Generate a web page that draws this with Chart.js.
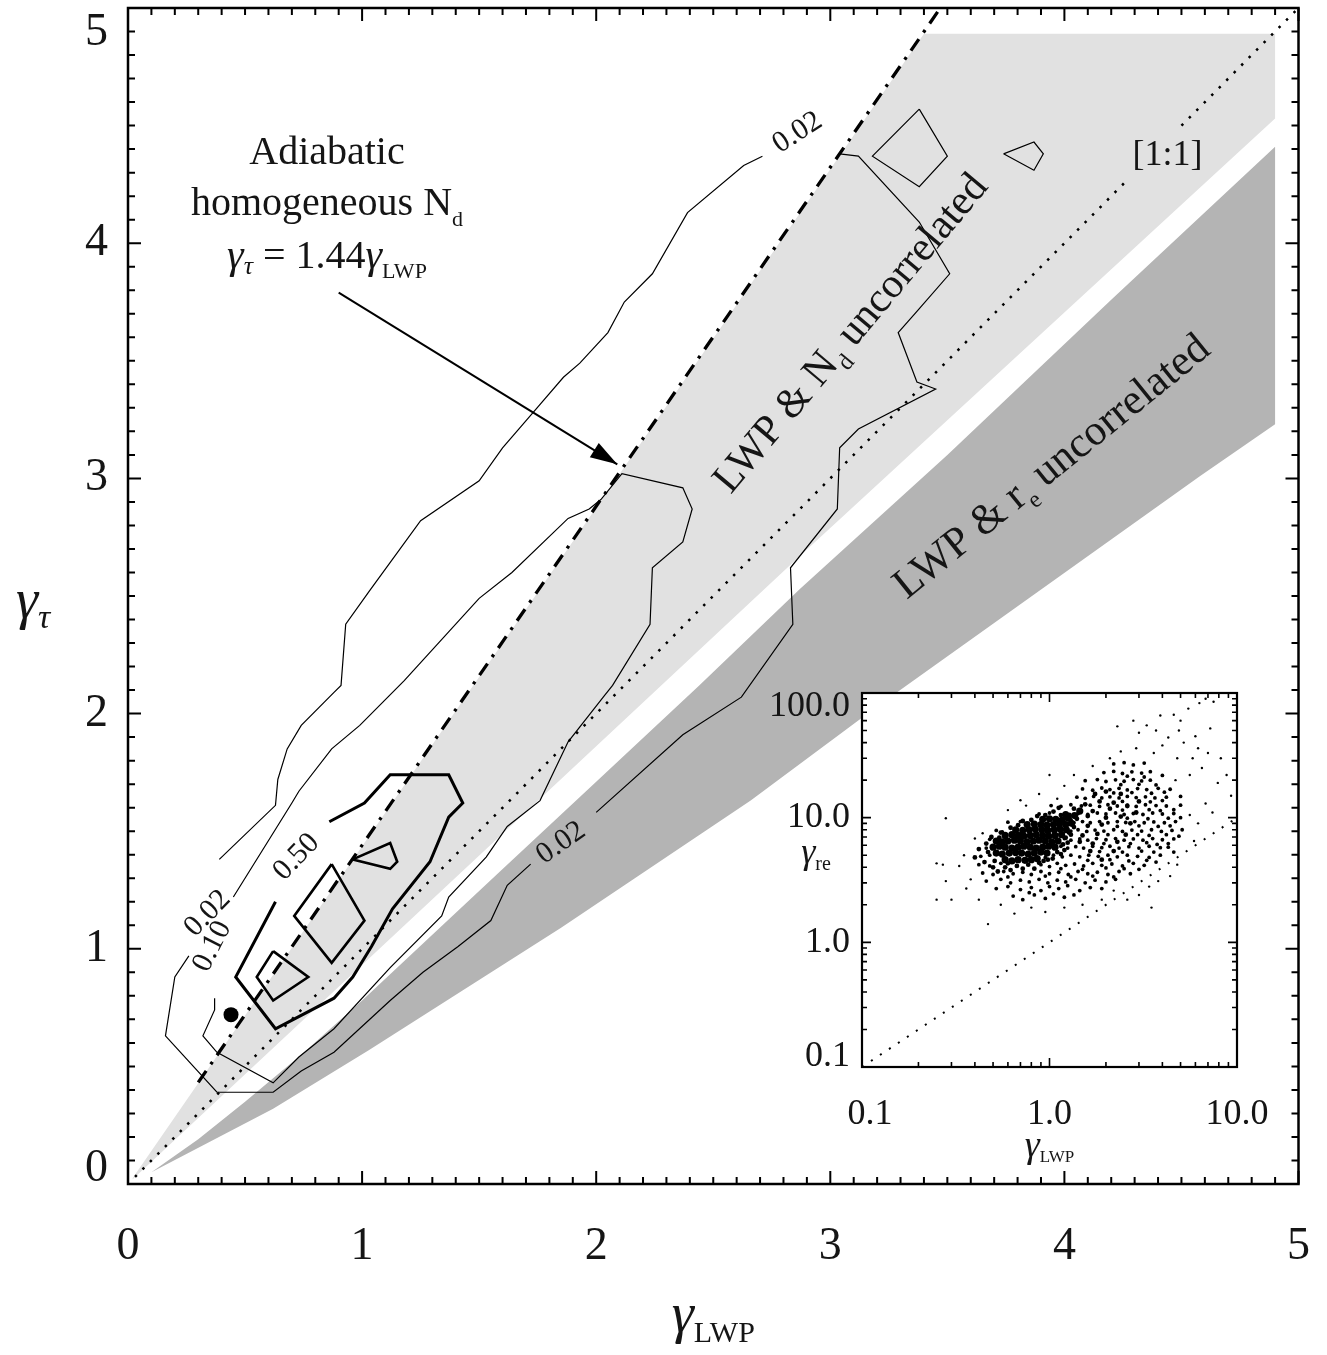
<!DOCTYPE html>
<html>
<head>
<meta charset="utf-8">
<script src="https://cdn.jsdelivr.net/npm/chart.js@4.4.0/dist/chart.umd.min.js"></script>
<style>
	html, body { margin: 0; padding: 0; background: #fff; }
	#marco { position: relative; width: 1327px; height: 1355px; }
	#principal { position: absolute; left: 0; top: 0; }
	#recuadro { position: absolute; left: 740px; top: 660px; }
</style>
</head>
<body>
<div id="marco">
	<canvas id="principal" width="1327" height="1355"></canvas>
	<canvas id="recuadro" width="560" height="520"></canvas>
</div>
<script>
/*******************************************************************************
 * Datos
 *******************************************************************************/

var ticksPrincipal = [0, 1, 2, 3, 4, 5];
var etiquetasPrincipal = ['0', '1', '2', '3', '4', '5'];

// zonas sombreadas
var zonaNd = [[0.02, 0.025], [3.40, 4.89], [4.90, 4.89], [4.90, 4.53], [2.87, 2.67], [0.02, 0.02]];
var zonaRe = [[0.10, 0.05], [0.30, 0.19], [0.50, 0.35], [0.74, 0.55], [1.00, 0.78], [1.30, 1.06], [1.59, 1.33],
	[2.00, 1.71], [2.44, 2.12], [2.87, 2.53], [3.50, 3.10], [4.20, 3.76], [4.90, 4.41],
	[4.90, 3.23], [4.58, 3.01], [3.20, 2.03], [2.66, 1.63], [1.85, 1.09], [1.03, 0.57], [0.62, 0.32], [0.10, 0.05]];

// linea 1:1, cortada donde va la etiqueta
var linea11 = [
	[[0.03, 0.03], [4.27, 4.27]],
	[[4.50, 4.50], [5, 5]]
];
var adiabatica = [[0.30, 0.432], [3.47, 5.0]];
var flecha = [[0.90, 3.79], [2.09, 3.06]];
var puntoNegro = [[0.44, 0.72]];

// contornos (cada tramo entre etiquetas es una lista)
var contorno002 = [
	[[3.04, 4.38], [3.12, 4.37], [3.38, 4.09], [3.51, 3.87], [3.37, 3.71], [3.29, 3.62], [3.37, 3.41], [3.45, 3.38],
	 [3.12, 3.21], [3.04, 3.13], [3.03, 2.87], [2.83, 2.62], [2.84, 2.38], [2.62, 2.07], [2.37, 1.91], [2.00, 1.58]],
	[[1.72, 1.36], [1.62, 1.27], [1.55, 1.12], [1.41, 1.01], [1.26, 0.90], [1.12, 0.78], [0.88, 0.56], [0.74, 0.48],
	 [0.62, 0.39], [0.38, 0.39], [0.16, 0.63], [0.20, 0.88], [0.26, 0.97]],
	[[0.39, 1.38], [0.63, 1.61], [0.64, 1.72], [0.68, 1.85], [0.74, 1.95], [0.88, 2.09], [0.91, 2.12], [0.93, 2.38],
	 [1.03, 2.52], [1.25, 2.82], [1.50, 2.99], [1.60, 3.13], [1.73, 3.28], [1.86, 3.43], [1.93, 3.49], [2.05, 3.62],
	 [2.12, 3.75], [2.24, 3.87], [2.39, 4.13], [2.63, 4.33], [2.71, 4.37]]
];
var islas002 = [
	[[3.38, 4.57], [3.50, 4.37], [3.38, 4.24], [3.18, 4.37], [3.38, 4.57]],
	[[3.74, 4.38], [3.87, 4.43], [3.91, 4.38], [3.87, 4.31], [3.74, 4.38]]
];
var contorno010 = [
	[[0.45, 1.22], [0.70, 1.62], [0.73, 1.67], [0.87, 1.85], [0.99, 1.95], [1.18, 2.14], [1.50, 2.49], [1.64, 2.60],
	 [1.88, 2.83], [1.97, 2.87], [2.02, 2.91], [2.11, 3.02], [2.37, 2.96], [2.41, 2.87], [2.37, 2.73], [2.24, 2.62],
	 [2.23, 2.38], [2.07, 2.12], [2.03, 2.07], [1.88, 1.88], [1.76, 1.63], [1.62, 1.52], [1.53, 1.39], [1.37, 1.22],
	 [1.34, 1.14], [1.12, 0.92], [0.88, 0.66], [0.73, 0.54], [0.62, 0.43], [0.38, 0.56], [0.32, 0.63], [0.37, 0.74],
	 [0.37, 0.79]]
];
var contorno050 = [
	[[0.86, 1.54], [1.01, 1.62], [1.12, 1.74], [1.37, 1.74], [1.43, 1.62], [1.37, 1.56], [1.29, 1.37], [1.13, 1.17],
	 [1.04, 1.01], [0.96, 0.88], [0.88, 0.79], [0.63, 0.66], [0.46, 0.88], [0.63, 1.20]]
];
var islas050 = [
	[[0.87, 1.36], [1.01, 1.12], [0.87, 0.94], [0.71, 1.14], [0.87, 1.36]],
	[[0.62, 0.99], [0.77, 0.88], [0.62, 0.78], [0.55, 0.88], [0.62, 0.99]],
	[[0.96, 1.38], [1.12, 1.45], [1.15, 1.37], [1.12, 1.34], [0.96, 1.38]]
];

// recuadro log-log
var ticksRecuadroX = [0.1, 1, 10];
var etiquetasRecuadroX = ['0.1', '1.0', '10.0'];
var ticksRecuadroY = [0.1, 1, 10, 100];
var etiquetasRecuadroY = ['0.1', '1.0', '10.0', '100.0'];
var linea11Recuadro = [[0.1, 0.1], [10, 10]];

var nubeNucleo = [
	[0.58, 4.6], [0.63, 4.5], [0.68, 4.6], [0.74, 4.55], [0.80, 4.6], [0.86, 4.7],
	[0.52, 5.2], [0.56, 5.1], [0.61, 5.2], [0.66, 5.25], [0.71, 5.2], [0.77, 5.1], [0.83, 5.2], [0.90, 5.3], [0.97, 5.2],
	[0.50, 5.8], [0.54, 5.9], [0.58, 5.8], [0.63, 5.7], [0.68, 5.8], [0.73, 5.9], [0.79, 5.8], [0.85, 5.7], [0.92, 5.8], [0.99, 5.9], [1.07, 5.8],
	[0.52, 6.5], [0.56, 6.4], [0.60, 6.5], [0.65, 6.6], [0.70, 6.5], [0.76, 6.4], [0.82, 6.5], [0.88, 6.6], [0.95, 6.5], [1.03, 6.4], [1.11, 6.5],
	[0.58, 7.2], [0.63, 7.3], [0.68, 7.2], [0.73, 7.1], [0.79, 7.2], [0.85, 7.3], [0.92, 7.2], [0.99, 7.1], [1.07, 7.2], [1.16, 7.3],
	[0.66, 8.0], [0.72, 7.9], [0.78, 8.0], [0.84, 8.1], [0.91, 8.0], [0.98, 7.9], [1.06, 8.0], [1.14, 8.1], [1.23, 8.0],
	[0.76, 8.8], [0.83, 8.9], [0.90, 8.8], [0.97, 8.7], [1.05, 8.8], [1.13, 8.9], [1.22, 8.8], [1.31, 9.0],
	[0.92, 9.7], [1.00, 9.8], [1.08, 9.7], [1.17, 9.6], [1.26, 9.9], [1.36, 10.4], [1.22, 10.6], [1.45, 11.3]
];
var nubeIntermedia = [
	[0.45, 4.4], [0.47, 5.3], [0.50, 4.0], [0.53, 3.7], [0.58, 4.0], [0.62, 3.8], [0.67, 4.1], [0.72, 3.9], [0.77, 4.2],
	[0.83, 3.9], [0.88, 4.35], [0.93, 4.5], [0.98, 4.6], [1.04, 4.7], [1.10, 5.3], [1.15, 5.1], [1.20, 5.5], [1.18, 6.1],
	[1.25, 6.3], [1.22, 6.9], [1.30, 7.3], [1.27, 7.6], [1.35, 8.4], [1.30, 9.4], [1.40, 9.8], [1.25, 10.2], [1.15, 10.5],
	[1.45, 11.5], [1.35, 11.8], [1.55, 12.8], [1.60, 10.3], [1.70, 11.3], [1.50, 7.2], [1.60, 8.6], [1.45, 6.4], [1.70, 6.2],
	[1.80, 7.4], [1.90, 8.8], [2.00, 10.0], [2.10, 11.8], [1.85, 13.5], [2.20, 13.2], [2.40, 15.5], [2.00, 16.2], [1.75, 15.5],
	[1.65, 5.4], [1.90, 4.6], [2.20, 5.4], [2.30, 6.4], [2.55, 7.3], [2.70, 9.0], [2.40, 10.2], [2.90, 11.0], [2.60, 12.4],
	[3.00, 13.5], [0.46, 6.2], [0.49, 7.0], [0.54, 6.9], [0.55, 7.6], [0.62, 8.3], [0.68, 8.7], [0.72, 9.4], [0.80, 9.6],
	[0.86, 10.3], [0.95, 10.5], [1.05, 11.2], [1.12, 12.0], [0.60, 4.3], [0.40, 4.8], [0.42, 5.6], [0.51, 4.5]
];
var nubeDensa = [
	[0.64, 2.35], [0.72, 2.2], [0.83, 2.4], [0.95, 2.25], [1.05, 2.45], [1.2, 2.3], [1.35, 2.4], [0.78, 2.5],
	[0.52, 2.7], [0.6, 2.8], [0.7, 2.65], [0.8, 2.75], [0.9, 2.6], [1.0, 2.8], [1.12, 2.7], [1.25, 2.85], [1.45, 2.6], [1.65, 2.75], [1.9, 2.7],
	[0.46, 3.1], [0.55, 3.2], [0.62, 3.0], [0.7, 3.15], [0.78, 3.05], [0.88, 3.2], [0.98, 3.0], [1.1, 3.15], [1.22, 3.05], [1.38, 3.2], [1.55, 3.0], [1.75, 3.15], [2.0, 3.05], [2.25, 3.2],
	[0.44, 3.6], [0.5, 3.5], [0.57, 3.7], [0.64, 3.55], [0.72, 3.65], [0.8, 3.5], [0.9, 3.7], [1.0, 3.55], [1.12, 3.65], [1.26, 3.5], [1.42, 3.7], [1.6, 3.55], [1.8, 3.65], [2.05, 3.5], [2.35, 3.7], [2.7, 3.55],
	[0.42, 4.2], [0.48, 4.1], [0.55, 4.3], [0.9, 4.2], [1.0, 4.05], [1.1, 4.3], [1.22, 4.15], [1.36, 4.25], [1.52, 4.1], [1.7, 4.3], [1.9, 4.15], [2.15, 4.25], [2.45, 4.1], [2.8, 4.3], [3.2, 4.15],
	[0.43, 4.9], [0.48, 5.0], [0.95, 4.8], [1.05, 5.0], [1.17, 4.85], [1.3, 5.0], [1.45, 4.85], [1.62, 5.0], [1.82, 4.9], [2.05, 5.0], [2.3, 4.85], [2.6, 5.0], [2.95, 4.9], [3.4, 4.8], [3.9, 5.0],
	[0.46, 5.7], [1.15, 5.9], [1.25, 5.7], [1.38, 5.85], [1.52, 5.7], [1.7, 5.9], [1.9, 5.75], [2.1, 5.9], [2.35, 5.7], [2.65, 5.85], [3.0, 5.7], [3.4, 5.9], [3.9, 5.75], [4.3, 5.8],
	[0.48, 6.7], [1.2, 6.8], [1.3, 6.6], [1.45, 6.75], [1.6, 6.6], [1.78, 6.8], [2.0, 6.65], [2.25, 6.8], [2.5, 6.6], [2.8, 6.75], [3.15, 6.6], [3.55, 6.8], [4.0, 6.65], [4.6, 6.75],
	[0.52, 7.9], [0.56, 7.7], [1.3, 7.8], [1.42, 8.0], [1.58, 7.75], [1.75, 7.95], [1.95, 7.8], [2.2, 8.0], [2.45, 7.75], [2.75, 7.95], [3.1, 7.8], [3.5, 8.0], [3.95, 7.75], [4.5, 7.9], [5.1, 8.0],
	[0.6, 9.2], [0.7, 9.3], [1.35, 9.1], [1.5, 9.3], [1.65, 9.1], [1.85, 9.3], [2.05, 9.1], [2.3, 9.3], [2.55, 9.15], [2.85, 9.3], [3.2, 9.1], [3.6, 9.25], [4.1, 9.1], [4.7, 9.3],
	[0.88, 10.7], [1.0, 10.9], [1.28, 10.6], [1.42, 10.8], [1.6, 10.6], [1.8, 10.9], [2.0, 10.7], [2.25, 10.9], [2.5, 10.6], [2.8, 10.8], [3.15, 10.6], [3.55, 10.9], [4.0, 10.7], [4.6, 10.8],
	[1.02, 12.5], [1.15, 12.3], [1.3, 12.7], [1.48, 12.4], [1.65, 12.6], [1.85, 12.3], [2.05, 12.7], [2.3, 12.4], [2.6, 12.6], [2.9, 12.3], [3.25, 12.7], [3.7, 12.5], [4.2, 12.4], [5.0, 12.6],
	[1.4, 14.6], [1.55, 14.3], [1.72, 14.8], [1.9, 14.4], [2.1, 14.7], [2.35, 14.4], [2.6, 14.8], [2.9, 14.5], [3.25, 14.7], [3.65, 14.4], [4.2, 14.6], [5.0, 14.8],
	[1.5, 17], [1.7, 16.6], [1.9, 17.3], [2.1, 16.8], [2.35, 17.2], [2.6, 16.7], [2.95, 17.1], [3.3, 16.8], [3.8, 17.2], [4.4, 16.9],
	[1.55, 19.8], [1.8, 20.2], [2.0, 19.5], [2.25, 20.1], [2.5, 19.6], [2.8, 20.2], [3.1, 19.7], [3.45, 20.0],
	[1.95, 23], [2.2, 23.5], [2.45, 22.6], [2.75, 23.3], [3.1, 22.8], [3.45, 23.4],
	[2.2, 27], [2.5, 27.6], [2.8, 26.5], [3.2, 27.4],
	[1.3, 3.35], [1.7, 3.4], [2.2, 3.35], [0.6, 3.35], [0.95, 3.4],
	[1.15, 3.9], [1.5, 3.85], [2.0, 3.95], [2.5, 3.9], [3.0, 3.85],
	[1.6, 4.55], [2.1, 4.6], [2.65, 4.5], [3.3, 4.55], [3.7, 4.4],
	[1.85, 5.35], [2.45, 5.3], [3.1, 5.4], [3.6, 5.3], [4.6, 5.3],
	[1.95, 6.2], [2.7, 6.2], [3.3, 6.3], [3.75, 6.1], [4.3, 6.2],
	[2.05, 7.3], [2.95, 7.3], [3.4, 7.2], [4.2, 7.3], [4.9, 7.1],
	[2.3, 8.5], [3.0, 8.6], [3.8, 8.5], [4.4, 8.6],
	[2.6, 9.9], [3.35, 9.8], [4.3, 9.9], [5.0, 10.0],
	[2.45, 11.5], [3.4, 11.6], [3.9, 11.4], [4.6, 11.6],
	[2.45, 13.5], [3.45, 13.4], [4.0, 13.7],
	[2.2, 15.8], [2.75, 15.9], [3.5, 15.7], [4.1, 16],
	[2.4, 18.4], [3.0, 18.5], [3.7, 18.3],
	[2.6, 21.5], [3.2, 21.2], [4.0, 21.8]
];
var nubeDispersa = [
	[5.0, 60], [5.5, 75], [6.3, 83], [6.8, 90], [7.5, 85], [4.6, 67], [3.9, 66], [3.3, 55], [3.0, 48], [4.3, 44],
	[5.2, 40], [4.0, 38], [6.0, 45], [7.2, 52], [7.0, 33], [8.2, 30], [8.8, 22], [9.3, 15], [7.9, 19], [6.5, 25],
	[5.8, 30], [4.8, 30], [3.6, 33], [2.9, 36], [2.4, 34], [2.1, 30], [1.7, 26], [1.35, 22], [1.2, 18], [2.8, 60],
	[2.3, 54], [3.7, 50], [4.9, 50], [6.2, 36], [5.6, 22], [4.7, 20], [6.8, 13], [5.6, 10.5], [6.2, 9], [5.9, 6.5],
	[7.4, 11], [4.8, 4.2], [4.4, 3.4], [3.8, 3.1], [3.4, 2.8], [3.5, 1.9], [3.0, 2.4], [2.6, 2.2], [2.2, 2.6], [1.9, 2.2],
	[1.5, 2.0], [1.2, 1.9], [0.95, 1.75], [0.8, 1.9], [0.65, 1.7], [0.47, 1.4], [0.55, 2.0], [0.42, 2.2], [0.3, 2.2], [0.25, 2.2],
	[0.28, 3.1], [0.25, 4.3], [0.27, 4.2], [0.33, 4.1], [0.35, 5.0], [0.38, 3.2], [0.36, 2.7], [0.28, 9.9], [0.4, 6.8], [0.44, 7.5],
	[0.6, 11.5], [0.75, 12.5], [0.88, 15.5], [1.0, 22], [0.7, 13.8], [1.1, 14.2]
];

/*******************************************************************************
 * Textos
 *******************************************************************************/

var FUENTE = '"Liberation Serif", "Times New Roman", serif';
var COLOR_TEXTO = '#151515';

var etiquetasContorno = [
	{ texto: '0.02', x: 2.86, y: 4.47, angulo: -33 },
	{ texto: '0.02', x: 1.85, y: 1.45, angulo: -35 },
	{ texto: '0.50', x: 0.72, y: 1.39, angulo: -46 },
	{ texto: '0.10', x: 0.36, y: 1.01, angulo: -63 },
	{ texto: '0.02', x: 0.34, y: 1.15, angulo: -46 }
];

// partes: [texto, tamano, desplazamiento vertical, cursiva]
var notas = [
	{ partes: [['Adiabatic', 40, 0]], x: 0.85, y: 4.337, angulo: 0 },
	{ partes: [['homogeneous N', 40, 0], ['d', 22, 11]], x: 0.85, y: 4.12, angulo: 0 },
	{ partes: [['\u03b3', 42, 0, true], ['\u03c4', 26, 6, true], [' = 1.44', 40, 0], ['\u03b3', 42, 0, true], ['LWP', 22, 10]], x: 0.85, y: 3.895, angulo: 0 },
	{ partes: [['[1:1]', 36, 0]], x: 4.44, y: 4.333, angulo: 0 },
	{ partes: [['LWP & N', 42, 0], ['d', 24, 10], [' uncorrelated', 42, 0]], x: 3.127, y: 3.584, angulo: -50 },
	{ partes: [['LWP & r', 43, 0], ['e', 24, 10], [' uncorrelated', 43, 0]], x: 3.979, y: 3.009, angulo: -39 }
];

function textoCompuesto(ctx, partes, x, y, angulo, alineacion)
{
	ctx.save();
	ctx.translate(x, y);
	ctx.rotate((angulo || 0) * Math.PI / 180);
	ctx.textAlign = 'left';
	ctx.textBaseline = 'alphabetic';
	var total = 0;
	for (var i = 0; i < partes.length; i++)
	{
		ctx.font = (partes[i][3] ? 'italic ' : '') + partes[i][1] + 'px ' + FUENTE;
		total += ctx.measureText(partes[i][0]).width;
	}
	var cx = alineacion === 'left' ? 0 : (alineacion === 'right' ? -total : -total / 2);
	for (var i = 0; i < partes.length; i++)
	{
		ctx.font = (partes[i][3] ? 'italic ' : '') + partes[i][1] + 'px ' + FUENTE;
		ctx.fillText(partes[i][0], cx, partes[i][2]);
		cx += ctx.measureText(partes[i][0]).width;
	}
	ctx.restore();
}

function puntos(lista)
{
	return lista.map(function (p) { return { x: p[0], y: p[1] }; });
}

/*******************************************************************************
 * Grafica principal
 *******************************************************************************/

var decoracionPrincipal = {
	id: 'decoracionPrincipal',
	afterDraw: function (chart)
	{
		var ctx = chart.ctx;
		var ejeX = chart.scales.x;
		var ejeY = chart.scales.y;
		var area = chart.chartArea;

		ctx.save();

		// punta de la flecha
		var p0x = ejeX.getPixelForValue(flecha[0][0]), p0y = ejeY.getPixelForValue(flecha[0][1]);
		var p1x = ejeX.getPixelForValue(flecha[1][0]), p1y = ejeY.getPixelForValue(flecha[1][1]);
		var ang = Math.atan2(p1y - p0y, p1x - p0x);
		ctx.fillStyle = '#000';
		ctx.beginPath();
		ctx.moveTo(p1x, p1y);
		ctx.lineTo(p1x - 27 * Math.cos(ang) + 8.5 * Math.sin(ang), p1y - 27 * Math.sin(ang) - 8.5 * Math.cos(ang));
		ctx.lineTo(p1x - 27 * Math.cos(ang) - 8.5 * Math.sin(ang), p1y - 27 * Math.sin(ang) + 8.5 * Math.cos(ang));
		ctx.closePath();
		ctx.fill();

		// marco y marcas
		ctx.strokeStyle = '#000';
		ctx.lineWidth = 2.5;
		ctx.strokeRect(area.left, area.top, area.right - area.left, area.bottom - area.top);
		ctx.lineWidth = 2;
		ctx.beginPath();
		for (var i = 0; i <= 50; i++)
		{
			var v = i / 10;
			var largo = (i % 10 === 0) ? 13 : 7;
			var px = ejeX.getPixelForValue(v), py = ejeY.getPixelForValue(v);
			ctx.moveTo(px, area.bottom); ctx.lineTo(px, area.bottom - largo);
			ctx.moveTo(px, area.top); ctx.lineTo(px, area.top + largo);
			ctx.moveTo(area.left, py); ctx.lineTo(area.left + largo, py);
			ctx.moveTo(area.right, py); ctx.lineTo(area.right - largo, py);
		}
		ctx.stroke();

		// etiquetas de los ejes
		ctx.fillStyle = COLOR_TEXTO;
		ctx.font = '46px ' + FUENTE;
		ctx.textBaseline = 'middle';
		ctx.textAlign = 'center';
		for (var i = 0; i < ticksPrincipal.length; i++)
		{
			ctx.fillText(etiquetasPrincipal[i], ejeX.getPixelForValue(ticksPrincipal[i]), area.bottom + 63);
		}
		ctx.textAlign = 'right';
		for (var i = 0; i < ticksPrincipal.length; i++)
		{
			var ajuste = 0;
			if (i === 0) ajuste = -15;
			if (i === ticksPrincipal.length - 1) ajuste = 25;
			ctx.fillText(etiquetasPrincipal[i], area.left - 20, ejeY.getPixelForValue(ticksPrincipal[i]) + ajuste);
		}

		textoCompuesto(ctx, [['\u03b3', 56, 0, true], ['LWP', 30, 10]], (area.left + area.right) / 2, area.bottom + 148, 0, 'center');
		textoCompuesto(ctx, [['\u03b3', 56, 0, true], ['\u03c4', 34, 10, true]], 33, (area.top + area.bottom) / 2 + 22, 0, 'center');

		// etiquetas de contorno
		ctx.textAlign = 'center';
		ctx.textBaseline = 'middle';
		ctx.font = '30px ' + FUENTE;
		for (var i = 0; i < etiquetasContorno.length; i++)
		{
			var e = etiquetasContorno[i];
			ctx.save();
			ctx.translate(ejeX.getPixelForValue(e.x), ejeY.getPixelForValue(e.y));
			ctx.rotate(e.angulo * Math.PI / 180);
			ctx.fillText(e.texto, 0, 0);
			ctx.restore();
		}

		for (var i = 0; i < notas.length; i++)
		{
			var n = notas[i];
			textoCompuesto(ctx, n.partes, ejeX.getPixelForValue(n.x), ejeY.getPixelForValue(n.y), n.angulo, 'center');
		}
		ctx.restore();
	}
};

function tramos(lista, ancho, orden, guiones)
{
	return lista.map(function (t) {
		return {
			data: puntos(t),
			borderColor: '#000',
			borderWidth: ancho,
			borderDash: guiones || [],
			pointRadius: 0,
			fill: false,
			order: orden
		};
	});
}

var conjuntos = [
	{ data: puntos(zonaNd), fill: 'shape', backgroundColor: '#e1e1e1', borderColor: 'rgba(0,0,0,0)', borderWidth: 1, pointRadius: 0, order: 20 },
	{ data: puntos(zonaRe), fill: 'shape', backgroundColor: '#b4b4b4', borderColor: 'rgba(0,0,0,0)', borderWidth: 1, pointRadius: 0, order: 19 },
	{ data: puntos(adiabatica), borderColor: '#000', borderWidth: 3.3, borderDash: [14, 8, 3, 8], pointRadius: 0, fill: false, order: 9 },
	{ data: puntos(flecha), borderColor: '#000', borderWidth: 2, pointRadius: 0, fill: false, order: 2 },
	{ data: puntos(puntoNegro), showLine: false, pointRadius: 7.5, pointBackgroundColor: '#000', pointBorderWidth: 0, order: 1 }
]
	.concat(tramos(linea11, 2.5, 10, [2.5, 8.1]))
	.concat(tramos(contorno002, 1.2, 5))
	.concat(tramos(islas002, 1.2, 5))
	.concat(tramos(contorno010, 1.2, 5))
	.concat(tramos(contorno050, 3, 4))
	.concat(tramos(islas050, 2.6, 4));

var grafica = new Chart(document.getElementById('principal').getContext('2d'), {
	type: 'line',
	data: { datasets: conjuntos },
	options: {
		responsive: false,
		animation: false,
		devicePixelRatio: 1,
		events: [],
		layout: { padding: { left: 128, top: 8, right: 28.5, bottom: 171 } },
		plugins: { legend: { display: false }, tooltip: { enabled: false } },
		elements: { line: { tension: 0 } },
		scales: {
			x: { type: 'linear', min: 0, max: 5, display: false },
			y: { type: 'linear', min: 0, max: 5, display: false }
		}
	},
	plugins: [decoracionPrincipal]
});

/*******************************************************************************
 * Recuadro
 *******************************************************************************/

function menores(mayores, tope)
{
	var res = [];
	for (var i = 0; i < mayores.length; i++)
	{
		for (var k = 2; k <= 9; k++)
		{
			if (mayores[i] * k < tope) res.push(mayores[i] * k);
		}
	}
	return res;
}

var decoracionRecuadro = {
	id: 'decoracionRecuadro',
	beforeDatasetsDraw: function (chart)
	{
		var a = chart.chartArea;
		chart.ctx.save();
		chart.ctx.fillStyle = '#fff';
		chart.ctx.fillRect(a.left, a.top, a.right - a.left, a.bottom - a.top);
		chart.ctx.restore();
	},
	afterDraw: function (chart)
	{
		var ctx = chart.ctx;
		var ejeX = chart.scales.x;
		var ejeY = chart.scales.y;
		var a = chart.chartArea;

		ctx.save();
		ctx.strokeStyle = '#000';
		ctx.lineWidth = 2.2;
		ctx.strokeRect(a.left, a.top, a.right - a.left, a.bottom - a.top);

		ctx.lineWidth = 1.6;
		ctx.beginPath();
		var marcasX = ticksRecuadroX.map(function (v) { return [v, 9]; })
			.concat(menores(ticksRecuadroX, 10).map(function (v) { return [v, 5]; }));
		for (var i = 0; i < marcasX.length; i++)
		{
			var px = ejeX.getPixelForValue(marcasX[i][0]);
			ctx.moveTo(px, a.bottom); ctx.lineTo(px, a.bottom - marcasX[i][1]);
			ctx.moveTo(px, a.top); ctx.lineTo(px, a.top + marcasX[i][1]);
		}
		var marcasY = ticksRecuadroY.map(function (v) { return [v, 9]; })
			.concat(menores(ticksRecuadroY, 100).map(function (v) { return [v, 5]; }));
		for (var i = 0; i < marcasY.length; i++)
		{
			var py = ejeY.getPixelForValue(marcasY[i][0]);
			ctx.moveTo(a.left, py); ctx.lineTo(a.left + marcasY[i][1], py);
			ctx.moveTo(a.right, py); ctx.lineTo(a.right - marcasY[i][1], py);
		}
		ctx.stroke();

		ctx.fillStyle = COLOR_TEXTO;
		ctx.font = '36px ' + FUENTE;
		ctx.textBaseline = 'middle';
		ctx.textAlign = 'center';
		for (var i = 0; i < ticksRecuadroX.length; i++)
		{
			var dx = (i === 0) ? 8 : 0;
			ctx.fillText(etiquetasRecuadroX[i], ejeX.getPixelForValue(ticksRecuadroX[i]) + dx, a.bottom + 48);
		}
		ctx.textAlign = 'right';
		for (var i = 0; i < ticksRecuadroY.length; i++)
		{
			var dy = 0;
			if (i === 0) dy = -10;
			if (i === ticksRecuadroY.length - 1) dy = 14;
			ctx.fillText(etiquetasRecuadroY[i], a.left - 12, ejeY.getPixelForValue(ticksRecuadroY[i]) + dy);
		}

		textoCompuesto(ctx, [['\u03b3', 38, 0, true], ['LWP', 17, 5]], (a.left + a.right) / 2, a.bottom + 90, 0, 'center');
		textoCompuesto(ctx, [['\u03b3', 36, 0, true], ['re', 20, 7]], a.left - 46, a.top + 170, 0, 'center');
		ctx.restore();
	}
};

var graficaRecuadro = new Chart(document.getElementById('recuadro').getContext('2d'), {
	type: 'scatter',
	data: {
		datasets: [
			{ type: 'line', data: puntos(linea11Recuadro), borderColor: '#000', borderWidth: 2, borderDash: [2, 8.8], pointRadius: 0, fill: false },
			{ data: puntos(nubeNucleo), pointRadius: 3.6, pointBackgroundColor: '#000', pointBorderWidth: 0 },
			{ data: puntos(nubeIntermedia), pointRadius: 2.4, pointBackgroundColor: '#000', pointBorderWidth: 0 },
			{ data: puntos(nubeDensa), pointRadius: 1.9, pointBackgroundColor: '#000', pointBorderWidth: 0 },
			{ data: puntos(nubeDispersa), pointRadius: 1.2, pointBackgroundColor: '#000', pointBorderWidth: 0 }
		]
	},
	options: {
		responsive: false,
		animation: false,
		devicePixelRatio: 1,
		events: [],
		layout: { padding: { left: 122, top: 33, right: 63, bottom: 113 } },
		plugins: { legend: { display: false }, tooltip: { enabled: false } },
		scales: {
			x: { type: 'logarithmic', min: 0.1, max: 10, display: false },
			y: { type: 'logarithmic', min: 0.1, max: 100, display: false }
		}
	},
	plugins: [decoracionRecuadro]
});
</script>
</body>
</html>
